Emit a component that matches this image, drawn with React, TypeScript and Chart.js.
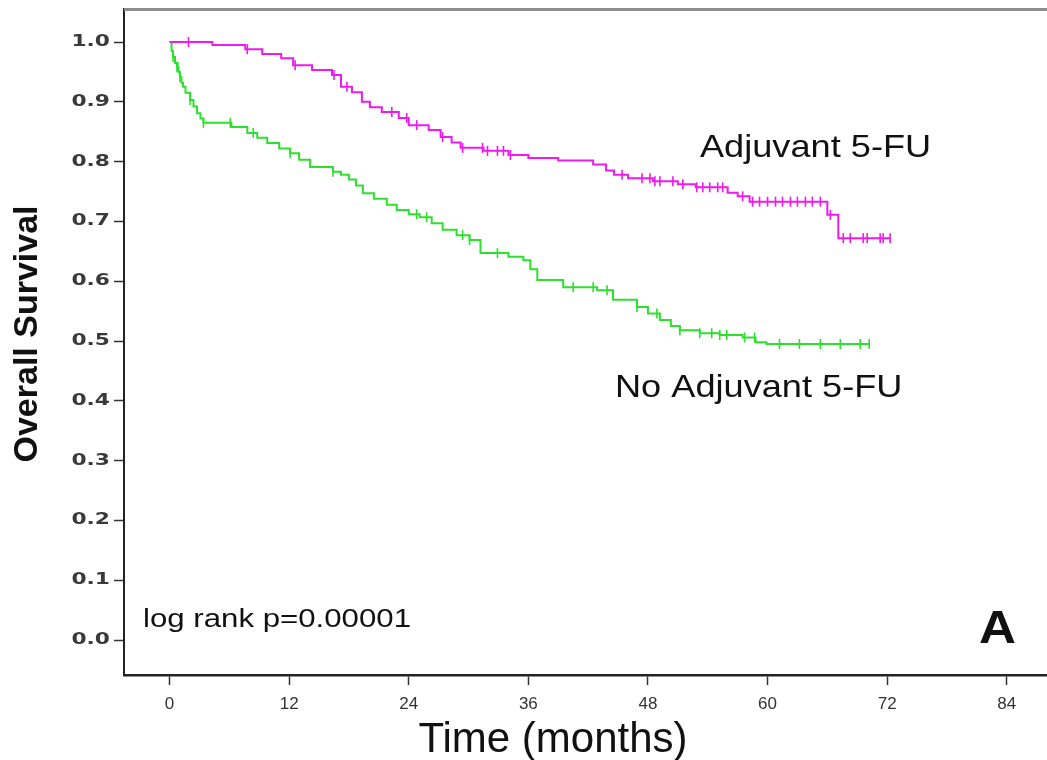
import React, { useEffect, useRef } from 'react';
import { Chart, registerables } from 'chart.js';

Chart.register(...registerables);

// ---------- Data ----------
// Adjuvant 5-FU arm: event times (months) and survival after each step
const adjTimes = [0, 4.3, 7.6, 9.3, 11.2, 12.4, 14.3, 16.3, 17.2, 18.3, 19.3, 20.1, 21.3, 23.0, 24.0, 26.0, 27.2, 28.3, 29.2, 31.5, 34.0, 36.0, 39.0, 42.5, 43.8, 44.6, 46.0, 48.5, 51.0, 52.8, 56.0, 57.0, 58.2, 66.0, 67.1];
const adjSurv = [1.0, 0.995, 0.988, 0.98, 0.973, 0.961, 0.953, 0.945, 0.925, 0.916, 0.9, 0.891, 0.883, 0.873, 0.861, 0.853, 0.841, 0.832, 0.823, 0.818, 0.811, 0.806, 0.802, 0.795, 0.785, 0.778, 0.772, 0.767, 0.762, 0.757, 0.748, 0.742, 0.733, 0.711, 0.672];
const adjCensored = [1.9, 7.8, 12.6, 16.5, 17.8, 22.3, 23.8, 24.8, 27.4, 29.4, 31.4, 31.9, 32.9, 33.5, 34.2, 45.4, 47.4, 48.2, 48.7, 49.2, 50.5, 51.5, 52.9, 53.5, 54.2, 55.0, 55.5, 57.5, 58.5, 59.2, 60.0, 60.8, 61.5, 62.3, 63.0, 63.8, 64.5, 65.3, 66.3, 67.6, 68.3, 69.6, 70.0, 71.3, 71.6, 72.3];
const adjLastFollowUp = 72.3;

// No adjuvant 5-FU arm
const noAdjTimes = [0, 0.2, 0.35, 0.55, 0.75, 0.9, 1.05, 1.2, 1.35, 1.6, 2.06, 2.4, 2.76, 3.1, 3.4, 6.2, 7.8, 8.8, 9.8, 11.0, 12.1, 13.0, 14.1, 16.4, 17.2, 18.0, 18.7, 19.4, 20.5, 21.8, 22.8, 24.0, 25.1, 26.3, 27.4, 28.8, 30.1, 31.2, 34.0, 35.5, 36.2, 36.9, 39.5, 42.9, 44.5, 46.9, 48.0, 49.2, 50.3, 51.2, 53.2, 55.2, 57.5, 58.8, 59.9];
const noAdjSurv = [1.0, 0.985, 0.975, 0.965, 0.958, 0.95, 0.941, 0.932, 0.925, 0.915, 0.903, 0.892, 0.881, 0.872, 0.865, 0.858, 0.848, 0.84, 0.831, 0.822, 0.814, 0.803, 0.791, 0.783, 0.778, 0.77, 0.76, 0.747, 0.738, 0.728, 0.719, 0.712, 0.707, 0.697, 0.686, 0.677, 0.669, 0.647, 0.641, 0.635, 0.62, 0.602, 0.59, 0.585, 0.569, 0.557, 0.546, 0.535, 0.525, 0.518, 0.513, 0.51, 0.506, 0.498, 0.495];
const noAdjCensored = [0.35, 0.75, 0.85, 1.05, 2.06, 3.4, 6.1, 8.4, 12.1, 16.4, 24.8, 25.8, 29.4, 30.1, 32.9, 40.5, 42.5, 43.9, 46.9, 48.9, 51.2, 53.2, 54.4, 55.2, 55.9, 57.7, 58.7, 61.2, 63.2, 65.3, 67.3, 69.3, 70.2];
const noAdjLastFollowUp = 70.2;

// Axis ticks
const xTickValues = [0, 12, 24, 36, 48, 60, 72, 84];
const xTickLabels = ['0', '12', '24', '36', '48', '60', '72', '84'];
const yTickValues = [0, 0.1, 0.2, 0.3, 0.4, 0.5, 0.6, 0.7, 0.8, 0.9, 1.0];
const yTickLabels = ['0.0', '0.1', '0.2', '0.3', '0.4', '0.5', '0.6', '0.7', '0.8', '0.9', '1.0'];

// Labels
const yTitle = 'Overall Survival';
const xTitle = 'Time (months)';
const adjLabel = 'Adjuvant 5-FU';
const noAdjLabel = 'No Adjuvant 5-FU';
const pValueLabel = 'log rank p=0.00001';
const panelLabel = 'A';

// ---------- Styling ----------
const MAGENTA = '#ee1aee';
const GREEN = '#2ee02e';
const X_MIN = -4.57;
const X_MAX = 88.04;
const Y_MIN = -0.0585;
const Y_MAX = 1.0552;
const Y_AXIS_W = 124;
const X_AXIS_H = 85;
const Y_TICK_LEN = 10;
const Y_TICK_PAD = 4;
const Y_LABEL_STRETCH = 1.45;

function stepValue(times: number[], surv: number[], t: number): number {
  let v = surv[0];
  for (let i = 0; i < times.length; i++) if (times[i] <= t) v = surv[i];
  return v;
}
function kmLine(times: number[], surv: number[], end: number) {
  const pts = times.map((t, i) => ({ x: t, y: surv[i] }));
  pts.push({ x: end, y: surv[surv.length - 1] });
  return pts;
}
function censorPoints(times: number[], surv: number[], cens: number[]) {
  return cens.map((t) => ({ x: t, y: stepValue(times, surv, t) }));
}

// Stretch only the y tick labels horizontally (they are the only layer drawn before datasets)
const yLabelStretch = {
  id: 'yLabelStretch',
  beforeDraw(chart: any) {
    const ctx = chart.ctx;
    const ys = chart.scales.y;
    const ax = ys.right - Y_TICK_LEN - Y_TICK_PAD;
    ctx.save();
    ctx.setTransform(Y_LABEL_STRETCH, 0, 0, 1, ax * (1 - Y_LABEL_STRETCH), 0);
  },
  beforeDatasetsDraw(chart: any) {
    chart.ctx.restore();
  },
};

function drawStretchedText(ctx: CanvasRenderingContext2D, text: string, x: number, y: number, font: string, sx: number) {
  ctx.save();
  ctx.font = font;
  ctx.fillStyle = '#111';
  ctx.textAlign = 'left';
  ctx.textBaseline = 'alphabetic';
  ctx.translate(x, y);
  ctx.scale(sx, 1);
  ctx.fillText(text, 0, 0);
  ctx.restore();
}

const annotations = {
  id: 'annotations',
  afterDraw(chart: any) {
    const ctx = chart.ctx as CanvasRenderingContext2D;
    const { left, right, top } = chart.chartArea;
    // top frame line
    ctx.save();
    ctx.strokeStyle = '#8c8c8c';
    ctx.lineWidth = 3;
    ctx.beginPath();
    ctx.moveTo(left, top + 0.5);
    ctx.lineTo(right, top + 0.5);
    ctx.stroke();
    ctx.restore();

    // y title
    ctx.save();
    ctx.translate(28, 334);
    ctx.rotate(-Math.PI / 2);
    ctx.font = 'bold 34px "Liberation Sans", Arial, sans-serif';
    ctx.fillStyle = '#111';
    ctx.textAlign = 'center';
    ctx.textBaseline = 'middle';
    ctx.fillText(yTitle, 0, 0);
    ctx.restore();

    // x title
    ctx.save();
    ctx.font = '42px "Liberation Sans", Arial, sans-serif';
    ctx.fillStyle = '#111';
    ctx.textAlign = 'center';
    ctx.textBaseline = 'alphabetic';
    ctx.fillText(xTitle, 553, 752);
    ctx.restore();

    drawStretchedText(ctx, adjLabel, 700, 157, '32px "Liberation Sans", Arial, sans-serif', 1.13);
    drawStretchedText(ctx, noAdjLabel, 615, 397, '32px "Liberation Sans", Arial, sans-serif', 1.13);
    drawStretchedText(ctx, pValueLabel, 143, 627, '26px "Liberation Sans", Arial, sans-serif', 1.2);
    drawStretchedText(ctx, panelLabel, 979, 643, 'bold 47px "Liberation Sans", Arial, sans-serif', 1.09);
  },
};

export default function App() {
  const canvasRef = useRef<HTMLCanvasElement | null>(null);

  useEffect(() => {
    if (!canvasRef.current) return;
    const chart = new Chart(canvasRef.current, {
      type: 'line',
      data: {
        datasets: [
          {
            label: adjLabel,
            data: kmLine(adjTimes, adjSurv, adjLastFollowUp),
            borderColor: MAGENTA,
            borderWidth: 2,
            stepped: 'before',
            pointRadius: 0,
            fill: false,
          },
          {
            label: adjLabel + ' censored',
            data: censorPoints(adjTimes, adjSurv, adjCensored),
            showLine: false,
            pointStyle: 'line',
            rotation: 90,
            pointRadius: 5,
            borderColor: MAGENTA,
            pointBorderColor: MAGENTA,
            pointBorderWidth: 1.6,
            borderWidth: 1.6,
          },
          {
            label: noAdjLabel,
            data: kmLine(noAdjTimes, noAdjSurv, noAdjLastFollowUp),
            borderColor: GREEN,
            borderWidth: 2,
            stepped: 'before',
            pointRadius: 0,
            fill: false,
          },
          {
            label: noAdjLabel + ' censored',
            data: censorPoints(noAdjTimes, noAdjSurv, noAdjCensored),
            showLine: false,
            pointStyle: 'line',
            rotation: 90,
            pointRadius: 5,
            borderColor: GREEN,
            pointBorderColor: GREEN,
            pointBorderWidth: 1.6,
            borderWidth: 1.6,
          },
        ],
      } as any,
      options: {
        animation: false,
        responsive: false,
        devicePixelRatio: 1,
        events: [],
        layout: { autoPadding: false, padding: { top: 9, left: 0, right: 0, bottom: 0 } },
        plugins: {
          legend: { display: false },
          tooltip: { enabled: false },
          title: { display: false },
        },
        scales: {
          x: {
            type: 'linear',
            min: X_MIN,
            max: X_MAX,
            afterBuildTicks: (s: any) => {
              s.ticks = xTickValues.map((v) => ({ value: v }));
            },
            afterFit: (s: any) => {
              s.height = X_AXIS_H;
              s.paddingLeft = 0;
              s.paddingRight = 0;
            },
            ticks: {
              callback: (_v: any, i: number) => xTickLabels[i],
              font: { family: '"Liberation Sans", Arial, sans-serif', size: 17 },
              color: '#333',
              padding: 9,
              maxRotation: 0,
              autoSkip: false,
              z: 1,
            },
            grid: {
              drawOnChartArea: false,
              drawTicks: true,
              tickLength: 10,
              tickWidth: 1.5,
              tickColor: '#333',
              z: 1,
            },
            border: { display: true, color: '#222', width: 2.5, z: 1 },
          },
          y: {
            type: 'linear',
            min: Y_MIN,
            max: Y_MAX,
            afterBuildTicks: (s: any) => {
              s.ticks = yTickValues.map((v) => ({ value: v }));
            },
            afterFit: (s: any) => {
              s.width = Y_AXIS_W;
              s.paddingTop = 0;
              s.paddingBottom = 0;
            },
            ticks: {
              callback: (_v: any, i: number) => yTickLabels[i],
              font: { family: '"DejaVu Sans", sans-serif', size: 15, weight: 'bold' },
              color: '#3a3a3a',
              padding: Y_TICK_PAD,
              autoSkip: false,
              z: 0,
            },
            grid: {
              drawOnChartArea: false,
              drawTicks: true,
              tickLength: Y_TICK_LEN,
              tickWidth: 1.5,
              tickColor: '#333',
              z: 1,
            },
            border: { display: true, color: '#222', width: 2, z: 1 },
          },
        },
      } as any,
      plugins: [yLabelStretch, annotations],
    });
    return () => chart.destroy();
  }, []);

  return (
    <div style={{ position: 'fixed', left: 0, top: 0, width: 1047, height: 760, background: '#fff' }}>
      <canvas ref={canvasRef} width={1047} height={760} style={{ display: 'block', width: 1047, height: 760 }} />
    </div>
  );
}
